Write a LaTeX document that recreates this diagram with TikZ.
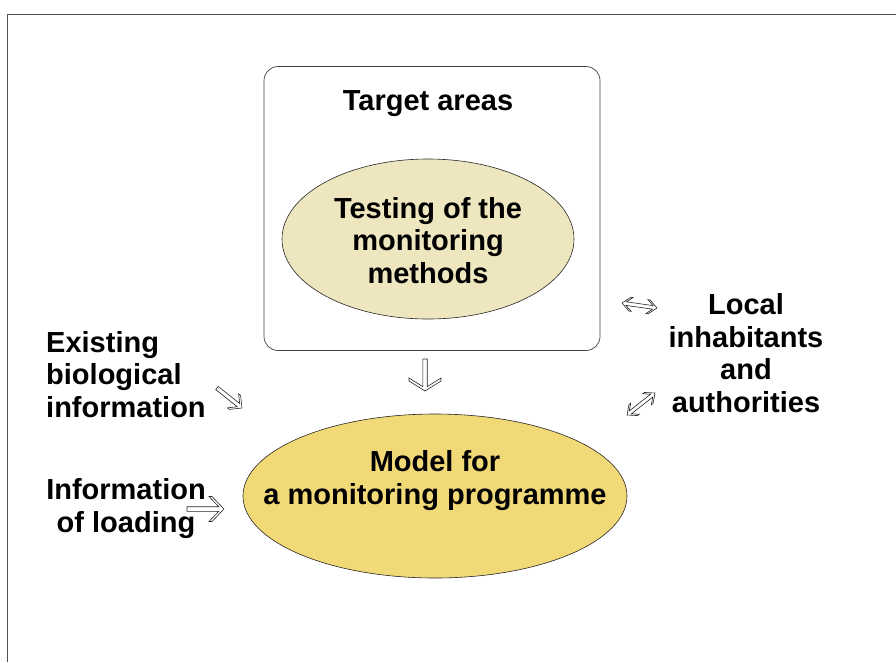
\documentclass[tikz,border=0pt]{standalone}
\usepackage{fontspec}
\setmainfont{Liberation Sans}
\usetikzlibrary{calc,shapes.geometric}
\definecolor{palekhaki}{HTML}{EEE6BF}
\definecolor{goldfill}{HTML}{F2D977}
\definecolor{framegray}{HTML}{505050}
\tikzset{
  lbl/.style={font=\bfseries\fontsize{29}{32.5}\selectfont, inner sep=0pt},
  harrowstyle/.style={draw=black!85, fill=white, line width=0.6pt, line join=miter},
  oval/.style={ellipse, draw=black!85, line width=0.6pt, inner sep=0pt}
}
% hollow single arrow: #1 from, #2 tip, #3 head length, #4 head half width, #5 head thickness, #6 shaft half width
\newcommand{\hollowarr}[6]{%
  \pgfmathsetmacro{\hj}{#5+#3*#6/#4}%
  \pgfmathsetmacro{\hb}{#3+#5}%
  \draw[harrowstyle]
    ($(#1)!#6pt!90:(#2)$)
    -- ($(#2)!\hj pt!(#1)!#6pt!-90:(#1)$)
    -- ($(#2)!\hb pt!(#1)!#4pt!-90:(#1)$)
    -- ($(#2)!#3pt!(#1)!#4pt!-90:(#1)$)
    -- (#2)
    -- ($(#2)!#3pt!(#1)!#4pt!90:(#1)$)
    -- ($(#2)!\hb pt!(#1)!#4pt!90:(#1)$)
    -- ($(#2)!\hj pt!(#1)!#6pt!90:(#1)$)
    -- ($(#1)!#6pt!-90:(#2)$)
    -- cycle;}
% hollow double-headed arrow
\newcommand{\hollowdbl}[6]{%
  \pgfmathsetmacro{\hj}{#5+#3*#6/#4}%
  \pgfmathsetmacro{\hb}{#3+#5}%
  \draw[harrowstyle]
    ($(#1)!\hj pt!(#2)!#6pt!90:(#2)$)
    -- ($(#2)!\hj pt!(#1)!#6pt!-90:(#1)$)
    -- ($(#2)!\hb pt!(#1)!#4pt!-90:(#1)$)
    -- ($(#2)!#3pt!(#1)!#4pt!-90:(#1)$)
    -- (#2)
    -- ($(#2)!#3pt!(#1)!#4pt!90:(#1)$)
    -- ($(#2)!\hb pt!(#1)!#4pt!90:(#1)$)
    -- ($(#2)!\hj pt!(#1)!#6pt!90:(#1)$)
    -- ($(#1)!\hj pt!(#2)!#6pt!-90:(#2)$)
    -- ($(#1)!\hb pt!(#2)!#4pt!-90:(#2)$)
    -- ($(#1)!#3pt!(#2)!#4pt!-90:(#2)$)
    -- (#1)
    -- ($(#1)!#3pt!(#2)!#4pt!90:(#2)$)
    -- ($(#1)!\hb pt!(#2)!#4pt!90:(#2)$)
    -- cycle;}
\begin{document}
\begin{tikzpicture}[x=1pt,y=-1pt]
\useasboundingbox (0,0) rectangle (896,662);
% frame
\draw[framegray, line width=1.3pt] (896,14.5) -- (7.5,14.5) -- (7.5,662);
% target areas box
\node[draw=black!75, line width=0.7pt, rounded corners=14pt, minimum width=336pt, minimum height=284pt, inner sep=0pt] (target) at (432,208.5) {};
\node[lbl, anchor=base] (targettxt) at (428,110) {Target areas};
% testing ellipse
\node[oval, fill=palekhaki, minimum width=292pt, minimum height=160pt] (testing) at (428,239) {};
\node[lbl, align=center, anchor=base] (testingtxt) at (428,283) {Testing of the\\monitoring\\methods};
% model ellipse
\node[oval, fill=goldfill, minimum width=384pt, minimum height=164pt] (model) at (435,496) {};
\node[lbl, align=center, anchor=base] (modeltxt) at (435,504) {Model for\\a monitoring programme};
% side texts
\node[lbl, align=left, anchor=base west] (existing) at (46,417) {Existing\\biological\\information};
\node[lbl, align=center, anchor=base] (loading) at (126,532) {Information\\of loading};
\node[lbl, align=center, anchor=base] (local) at (746,412) {Local\\inhabitants\\and\\authorities};
% arrow end points
\coordinate (d1) at (425,359); \coordinate (d2) at (425,391);
\coordinate (r1) at (187,509); \coordinate (r2) at (224,509);
\coordinate (e1) at (217,388); \coordinate (e2) at (242,408);
\coordinate (t1) at (622,303); \coordinate (t2) at (657,308);
\coordinate (b1) at (627,415); \coordinate (b2) at (655,393);
\hollowarr{d1}{d2}{10}{16}{3}{2.2}
\hollowarr{r1}{r2}{12}{12.5}{3}{2.3}
\hollowarr{e1}{e2}{9}{9}{2.5}{2}
\hollowdbl{t1}{t2}{8}{7}{2.2}{1.8}
\hollowdbl{b1}{b2}{8}{7}{2.2}{1.8}
\end{tikzpicture}
\end{document}
